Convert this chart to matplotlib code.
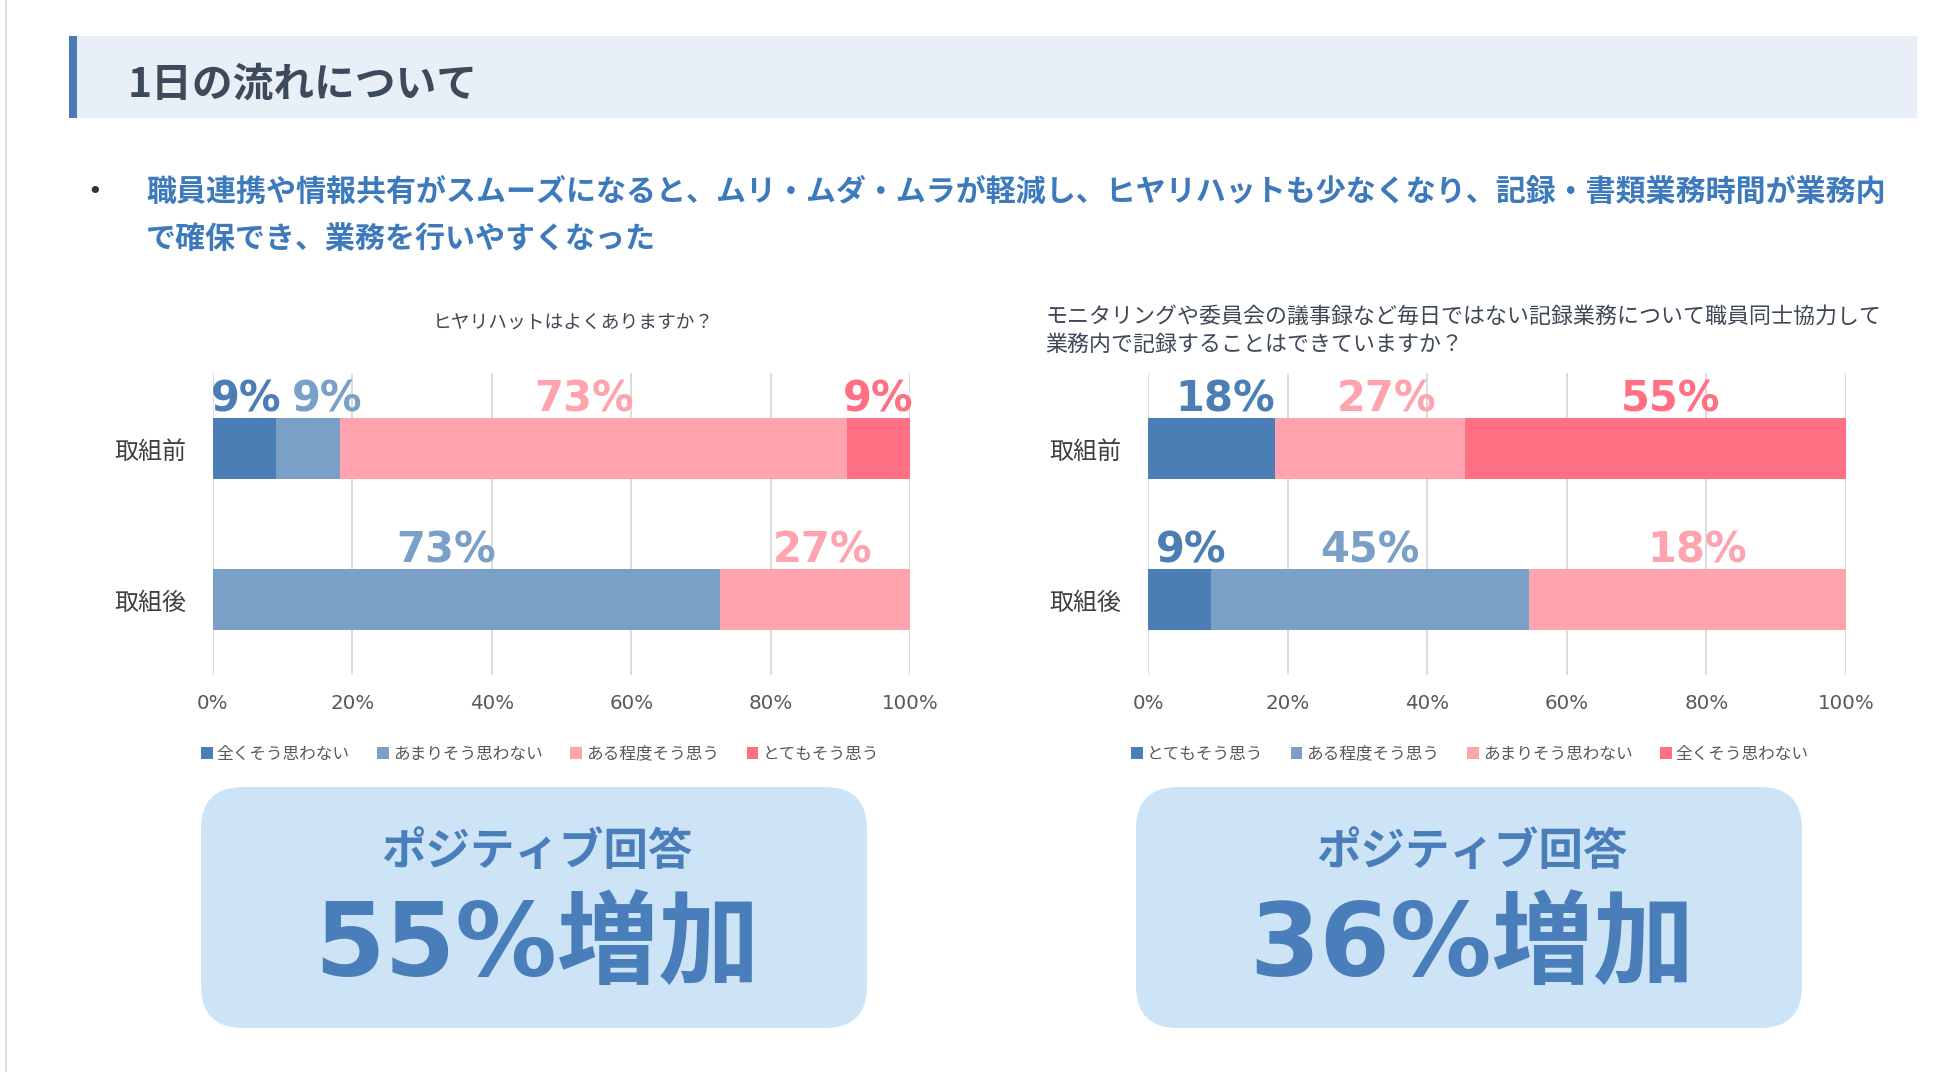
import matplotlib
matplotlib.use("Agg")
import matplotlib.pyplot as plt
from matplotlib.patches import FancyBboxPatch, Rectangle
import numpy as np

plt.rcParams['font.family'] = ['Noto Sans CJK JP', 'DejaVu Sans']

# ---------------- data ----------------
page_title = "1日の流れについて"
bullet_lines = ["職員連携や情報共有がスムーズになると、ムリ・ムダ・ムラが軽減し、ヒヤリハットも少なくなり、記録・書類業務時間が業務内",
                "で確保でき、業務を行いやすくなった"]

categories = ["取組前", "取組後"]
x_ticks = [0, 20, 40, 60, 80, 100]
x_tick_labels = ["0%", "20%", "40%", "60%", "80%", "100%"]

left_title = "ヒヤリハットはよくありますか？"
left_series = ["全くそう思わない", "あまりそう思わない", "ある程度そう思う", "とてもそう思う"]
left_values = [[9.09, 0.0],
               [9.09, 72.73],
               [72.73, 27.27],
               [9.09, 0.0]]
left_labels = [["9%", None],
               ["9%", "73%"],
               ["73%", "27%"],
               ["9%", None]]

right_title = "モニタリングや委員会の議事録など毎日ではない記録業務について職員同士協力して\n業務内で記録することはできていますか？"
right_series = ["とてもそう思う", "ある程度そう思う", "あまりそう思わない", "全くそう思わない"]
right_values = [[18.18, 9.09],
                [0.0, 45.45],
                [27.27, 45.45],
                [54.55, 0.0]]
right_labels = [["18%", "9%"],
                [None, "45%"],
                ["27%", "18%"],
                ["55%", None]]

box_heading = "ポジティブ回答"
box_values = ["55%増加", "36%増加"]

# ---------------- style ----------------
W, H = 1950, 1072
series_colors = ["#4a7eb5", "#7aa0c8", "#ffa3ae", "#ff7084"]
left_label_dx = [[0.2, 0], [2.7, -2.9], [-1.3, 1.1], [0.0, 0]]
right_label_dx = [[2.0, 1.7], [0, 0.0], [2.4, 1.4], [2.1, 0]]
bar_h = 0.404

fig = plt.figure(figsize=(W / 100, H / 100), dpi=100)
fig.patch.set_facecolor("white")

bg = fig.add_axes([0, 0, 1, 1])
bg.set_xlim(0, W)
bg.set_ylim(H, 0)
bg.axis("off")
bg.set_zorder(0)

# page border line
bg.plot([6, 6], [0, H], color="#d9d9d9", lw=1.2)
# header band
bg.add_patch(Rectangle((77, 36), 1917 - 77, 82, facecolor="#e8eff7", edgecolor="none"))
bg.add_patch(Rectangle((69, 36), 8, 82, facecolor="#4a7ab5", edgecolor="none"))
bg.text(128, 85, page_title, fontsize=29.3, fontweight="bold", color="#3d4a5c",
        va="center", ha="left")

# bullet text
bg.text(95, 192, "•", fontsize=18, color="#333333", va="center", ha="center",
        family="DejaVu Sans")
for i, line in enumerate(bullet_lines):
    bg.text(146, 192 + 47 * i, line, fontsize=21.6, fontweight="bold",
            color="#3c79bd", va="center", ha="left")

# chart titles
bg.text(573, 322, left_title, fontsize=13.5, color="#3e4755", va="center", ha="center")
bg.text(1045, 331, right_title, fontsize=15.8, color="#3e4755", va="center", ha="left",
        linespacing=1.33)


def draw_chart(rect, series, values, labels, dxs, legend_x):
    ax = fig.add_axes(rect)
    ax.set_zorder(2)
    ax.patch.set_alpha(0)
    y = np.arange(len(categories))
    left = np.zeros(len(categories))
    handles = []
    for s_idx, (name, vals) in enumerate(zip(series, values)):
        vals = np.array(vals)
        b = ax.barh(y, vals, left=left, height=bar_h, color=series_colors[s_idx],
                    linewidth=0, label=name, zorder=3)
        handles.append(b)
        for c_idx in range(len(categories)):
            lab = labels[s_idx][c_idx]
            if lab is not None:
                xc = left[c_idx] + vals[c_idx] / 2 + dxs[s_idx][c_idx]
                ax.annotate(lab, xy=(xc, y[c_idx] - bar_h / 2), xytext=(0, 5.0),
                            textcoords="offset points", ha="center", va="baseline",
                            fontsize=30, fontweight="bold", family="DejaVu Sans",
                            color=series_colors[s_idx], zorder=4)
        left = left + vals
    ax.set_xlim(0, 100)
    ax.set_ylim(1.5, -0.5)
    ax.set_xticks(x_ticks)
    ax.set_xticklabels(x_tick_labels, family="DejaVu Sans", fontsize=14.3, color="#595959")
    ax.set_yticks(y)
    ax.set_yticklabels(categories, fontsize=17.3, color="#404040")
    ax.tick_params(axis="both", length=0)
    ax.tick_params(axis="y", pad=19)
    ax.tick_params(axis="x", pad=14)
    ax.grid(axis="x", color="#d9d9d9", lw=1.3, zorder=0)
    ax.set_axisbelow(True)
    for sp in ax.spines.values():
        sp.set_visible(False)
    leg = ax.legend(handles=handles, loc="center", bbox_to_anchor=(legend_x, -0.262),
                    ncol=4, frameon=False, fontsize=12, handlelength=0.7,
                    handleheight=0.7, handletextpad=0.25, columnspacing=1.65,
                    borderpad=0, borderaxespad=0)
    for t in leg.get_texts():
        t.set_color("#595959")
    return ax


ax_bottom = 1 - 675 / H
ax_height = 302 / H
draw_chart([213 / W, ax_bottom, 697 / W, ax_height], left_series, left_values,
           left_labels, left_label_dx, 0.469)
draw_chart([1148 / W, ax_bottom, 698 / W, ax_height], right_series, right_values,
           right_labels, right_label_dx, 0.461)

# result boxes
for bx, txt in zip([201, 1136], box_values):
    bw, bh, by = 666, 241, 787
    bg.add_patch(FancyBboxPatch((bx, by), bw, bh,
                                boxstyle="round,pad=0,rounding_size=42",
                                facecolor="#cce4f6", edgecolor="none"))
    cx = bx + bw / 2
    bg.text(cx + 3, 852, box_heading, fontsize=32, fontweight="bold", color="#4a7ebb",
            ha="center", va="center")
    bg.text(cx + 3, 948, txt, fontsize=73, fontweight="bold", color="#4a7ebb",
            ha="center", va="center", family=["DejaVu Sans", "Noto Sans CJK JP"])

fig.savefig("out.png", dpi=100, facecolor="white")
